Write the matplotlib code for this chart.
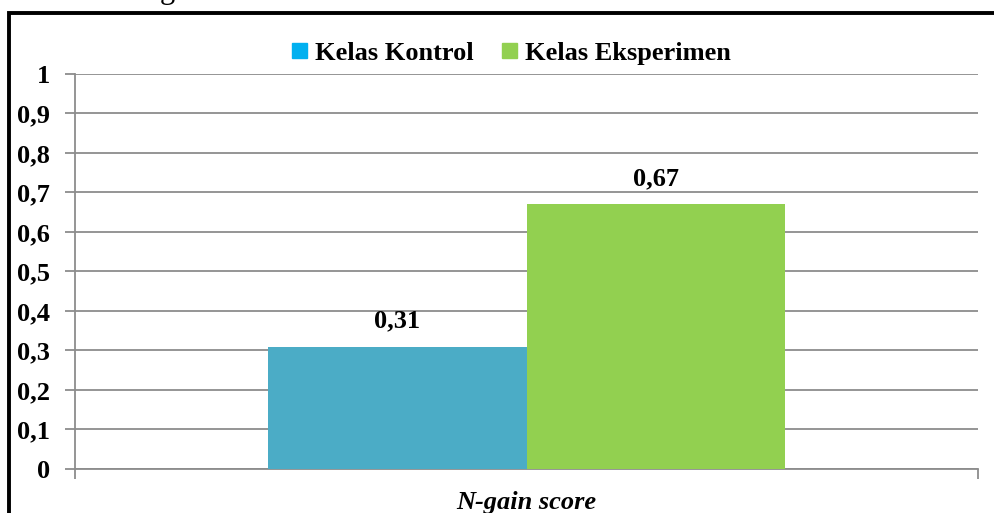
import matplotlib.pyplot as plt
from matplotlib.patches import Rectangle

series = ['Kelas Kontrol', 'Kelas Eksperimen']
values = [0.31, 0.67]
labels = ['0,31', '0,67']
bar_colors = ['#4BACC6', '#92D050']
legend_colors = ['#00B0F0', '#92D050']
category = 'N-gain score'
yticks = [0, 0.1, 0.2, 0.3, 0.4, 0.5, 0.6, 0.7, 0.8, 0.9, 1]

plt.rcParams['font.family'] = ['Liberation Serif', 'DejaVu Serif']
plt.rcParams['font.weight'] = 'bold'
fs = 19

fig = plt.figure(figsize=(9.95, 5.13), dpi=100)
ax = fig.add_axes([0.0754, 0.0858, 0.9076, 0.770])

# two bars side by side in the single category
w = 0.286
xs = [-w / 2, w / 2]
for x, v, lab, c in zip(xs, values, labels, bar_colors):
    ax.bar(x, v, width=w, color=c, zorder=3)
    ax.text(x, v + 0.035, lab, ha='center', va='bottom', fontsize=fs, fontweight='bold')

ax.set_xlim(-0.5, 0.5)
ax.set_ylim(0, 1)
ax.set_yticks(yticks)
ax.set_yticklabels([('%g' % t).replace('.', ',') for t in yticks], fontsize=fs, fontweight='bold')
ax.grid(axis='y', color='#8c8c8c', linewidth=1.3, zorder=0)
ax.tick_params(axis='y', length=7, width=1.3, color='#8c8c8c', pad=11)
ax.set_xticks([-0.5, 0.5])
ax.set_xticklabels(['', ''])
ax.tick_params(axis='x', length=7, width=1.3, color='#8c8c8c')
for s in ['top', 'right']:
    ax.spines[s].set_visible(False)
for s in ['left', 'bottom']:
    ax.spines[s].set_color('#8c8c8c')
    ax.spines[s].set_linewidth(1.3)
ax.set_xlabel(category, fontsize=fs, fontstyle='italic', fontweight='bold')
ax.xaxis.set_label_coords(0.5, -0.055)

handles = [Rectangle((0, 0), 1, 1, color=c) for c in legend_colors]
fig.legend(handles, series, loc='center', bbox_to_anchor=(0.514, 0.896), ncol=2, frameon=False,
           prop={'size': fs, 'weight': 'bold'}, handlelength=0.55, handleheight=0.55,
           handletextpad=0.3, columnspacing=1.1)

# outer frame of the embedded chart, running off the right and bottom edges
fig.patches.append(Rectangle((9 / 995, -0.05), 1.2, 1 - 13 / 513 + 0.05, transform=fig.transFigure,
                             fill=False, edgecolor='black', linewidth=2.8))
# descender of the caption above, cut by the page crop
fig.text(0.168, 1.003, 'g', fontsize=22, fontweight='normal', ha='center', va='baseline')

fig.savefig('out.png', dpi=100)
